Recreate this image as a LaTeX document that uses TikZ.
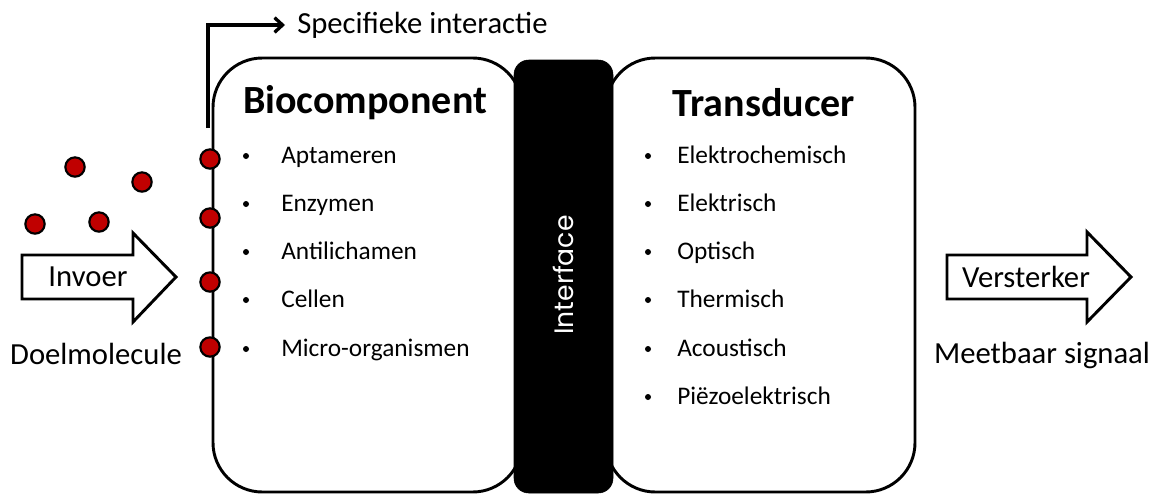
\documentclass[tikz,border=0pt]{standalone}
\usepackage{fontspec}
\setmainfont{Carlito}
\newfontfamily\ifont{Poppins}
\usetikzlibrary{arrows.meta}
\definecolor{dotred}{RGB}{192,0,0}
\tikzset{
  box/.style={draw=black, line width=2.2pt, fill=white, rounded corners=37pt},
  ifacebox/.style={draw=black, fill=black, rounded corners=11pt},
  mol/.style={circle, draw=black, line width=1.6pt, fill=dotred, minimum size=14.5pt, inner sep=0pt},
  blockarrow/.style={draw=black, line width=2.2pt, fill=white},
  outlabel/.style={font=\fontsize{23}{26}\selectfont, inner sep=0pt},
  titlelabel/.style={font=\fontsize{30}{34}\selectfont\bfseries, inner sep=0pt},
  itemlabel/.style={font=\fontsize{19}{22}\selectfont, inner sep=0pt, anchor=west, text height=0.7em, text depth=0.2em},
  bulletlabel/.style={circle, fill=black, inner sep=0pt, minimum size=4.5pt},
  connector/.style={draw=black, line width=2.5pt, -{Straight Barb[length=6pt,width=11pt,line width=2.5pt]}}
}
\begin{document}
\begin{tikzpicture}[x=0.75pt,y=-0.75pt]
\useasboundingbox (0,0) rectangle (1156,493);
% boxes
\draw[box] (213,58) rectangle (522,492);
\draw[box] (606,58) rectangle (915,492);
\draw[ifacebox] (514,60) rectangle (613,493);
\node[rotate=90, text=white, font=\ifont\fontsize{20}{24}\selectfont, inner sep=0pt] (iface) at (563,275) {Interface};
% titles
\node[titlelabel] (biotitle) at (365,103) {Biocomponent};
\node[titlelabel] (trtitle) at (764,103) {Transducer};
% bio items
\foreach \y/\t [count=\i] in {156/Aptameren, 204/Enzymen, 252/Antilichamen, 300/Cellen, 349/Micro-organismen}{
  \node[bulletlabel] (bb\i) at (246,\y) {};
  \node[itemlabel] (bi\i) at (281,\y+4) {\t};
}
% transducer items
\foreach \y/\t [count=\i] in {156/Elektrochemisch, 204/Elektrisch, 252/Optisch, 300/Thermisch, 349/Acoustisch, 397/Piëzoelektrisch}{
  \node[bulletlabel] (tb\i) at (648,\y) {};
  \node[itemlabel] (ti\i) at (677,\y+4) {\t};
}
% specific interaction arrow
\coordinate (sistart) at (208,128);
\node[outlabel, anchor=west] (si) at (297,25) {Specifieke interactie};
\draw[connector] (sistart) |- ([xshift=-9pt]si.west);
% molecules on surface
\node[mol] (m1) at (210,159) {};
\node[mol] (m2) at (210,218) {};
\node[mol] (m3) at (210,282) {};
\node[mol] (m4) at (210,347) {};
% free molecules
\node[mol] (f1) at (75,167) {};
\node[mol] (f2) at (142,182) {};
\node[mol] (f3) at (35,224) {};
\node[mol] (f4) at (99,222) {};
% input arrow
\draw[blockarrow] (22,255) -- (133,255) -- (133,233) -- (176,277) -- (133,322) -- (133,299) -- (22,299) -- cycle;
\node[outlabel] (invoer) at (88,277) {Invoer};
\node[outlabel] (doel) at (96,354) {Doelmolecule};
% output arrow
\draw[blockarrow] (947,255) -- (1087,255) -- (1087,232) -- (1131,277) -- (1087,322) -- (1087,299) -- (947,299) -- cycle;
\node[outlabel] (verst) at (1026,277) {Versterker};
\node[outlabel] (meet) at (1042,355) {Meetbaar signaal};
\end{tikzpicture}
\end{document}
